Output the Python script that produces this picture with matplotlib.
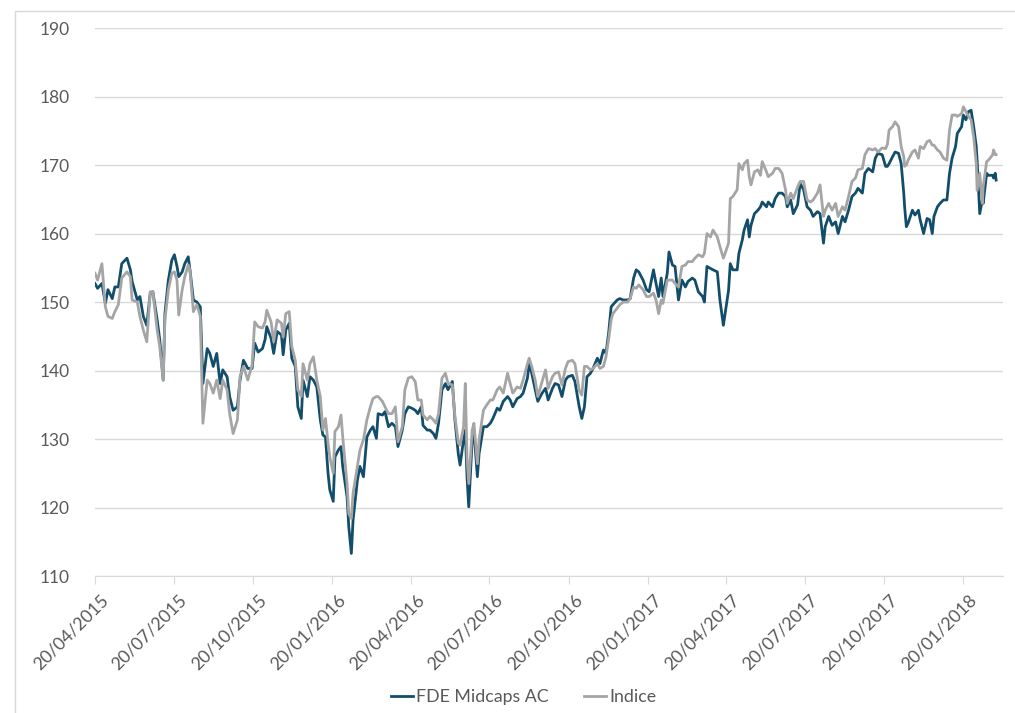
import numpy as np
import pandas as pd
from matplotlib import pyplot as plt
from matplotlib.patches import Rectangle
from matplotlib.transforms import ScaledTranslation
import matplotlib.dates as mdates

# days since 20/04/2015
day = [0, 3, 8, 12, 15, 20, 23, 27, 31, 37, 41, 43, 49, 52, 56, 60, 64, 67, 72, 75,
       79, 81, 85, 89, 92, 95, 97, 101, 104, 108, 110, 114, 118, 122, 125, 130, 133, 137, 141, 145,
       148, 153, 156, 160, 165, 168, 172, 177, 182, 185, 189, 194, 197, 199, 204, 207, 211, 216, 218, 221,
       225, 228, 232, 235, 239, 241, 246, 249, 253, 257, 261, 264, 267, 270, 272, 276, 278, 282, 285, 287,
       292, 294, 297, 299, 304, 307, 311, 315, 319, 322, 326, 328, 333, 336, 340, 344, 348, 351, 356, 359,
       363, 367, 371, 374, 378, 380, 385, 388, 392, 395, 398, 402, 406, 409, 414, 417, 421, 423, 427, 429,
       431, 433, 437, 439, 443, 445, 450, 454, 458, 461, 466, 469, 473, 478, 481, 484, 489, 493, 496, 501,
       503, 506, 510, 513, 518, 522, 525, 530, 533, 537, 541, 545, 548, 553, 556, 561, 564, 567, 570, 574,
       577, 582, 585, 589, 592, 595, 598, 600, 605, 608, 612, 617, 620, 624, 627, 630, 635, 639, 642, 647,
       650, 653, 656, 658, 663, 665, 669, 672, 676, 680, 684, 687, 692, 695, 699, 704, 706, 709, 713, 716,
       721, 724, 728, 730, 734, 736, 739, 744, 746, 750, 752, 756, 758, 760, 764, 768, 771, 773, 778, 780,
       785, 788, 792, 796, 800, 802, 806, 809, 814, 817, 821, 825, 829, 832, 837, 840, 844, 846, 850, 854,
       858, 861, 866, 869, 873, 877, 881, 884, 889, 892, 896, 901, 904, 907, 912, 916, 918, 920, 924, 927,
       931, 934, 937, 938, 940, 942, 947, 950, 954, 956, 960, 964, 967, 970, 972, 976, 979, 983, 987, 990,
       993, 997, 999, 1004, 1006, 1009, 1012, 1015, 1018, 1021, 1022, 1025, 1028, 1029, 1033, 1035, 1040, 1041, 1043, 1044]

fde = [152.7, 152.0, 152.7, 149.8, 151.8, 150.5, 152.2, 152.2, 155.6, 156.4, 154.7, 153.0, 150.3, 150.8, 147.9, 146.6, 151.3, 151.5, 147.4, 144.5,
       138.6, 148.3, 153.2, 156.1, 156.9, 155.2, 153.7, 154.4, 155.6, 156.6, 154.7, 150.3, 150.0, 149.3, 138.1, 143.2, 142.5, 140.6, 142.5, 138.1,
       140.1, 139.1, 136.2, 134.2, 134.7, 138.6, 141.5, 140.3, 140.3, 144.0, 142.7, 143.2, 144.5, 146.4, 144.7, 142.5, 145.7, 145.2, 142.3, 145.9,
       146.9, 141.8, 140.6, 134.7, 133.0, 138.6, 136.2, 139.1, 138.6, 137.6, 132.8, 130.6, 130.3, 125.0, 122.6, 120.9, 127.4, 128.4, 128.9, 126.0,
       121.6, 117.2, 113.3, 118.2, 124.0, 126.0, 124.5, 130.3, 131.3, 131.8, 130.1, 133.7, 133.5, 134.0, 131.8, 132.3, 131.8, 128.9, 131.3, 133.7,
       134.7, 134.5, 134.2, 133.7, 134.7, 132.0, 131.3, 131.3, 130.8, 130.1, 132.3, 137.2, 138.1, 137.2, 138.4, 132.8, 127.7, 126.2, 129.9, 131.3,
       124.5, 120.1, 129.9, 131.3, 124.5, 127.9, 131.8, 131.8, 132.3, 133.0, 134.5, 134.2, 135.5, 136.2, 135.7, 134.7, 135.9, 136.2, 136.7, 138.9,
       141.0, 139.6, 137.2, 135.5, 136.7, 137.4, 135.7, 137.4, 138.1, 137.9, 136.2, 138.6, 139.1, 139.3, 138.4, 134.7, 133.0, 134.7, 139.1, 139.6,
       140.3, 141.8, 141.0, 143.0, 142.5, 145.4, 149.3, 149.6, 150.3, 150.5, 150.3, 150.3, 150.5, 153.5, 154.7, 154.4, 153.2, 151.8, 151.5, 154.7,
       152.7, 150.8, 153.5, 150.8, 154.2, 157.3, 155.4, 155.2, 150.3, 153.2, 152.2, 153.0, 153.5, 153.2, 151.5, 150.8, 150.0, 155.2, 154.9, 154.7,
       154.4, 150.3, 146.6, 148.3, 151.7, 155.6, 154.7, 154.7, 157.1, 159.1, 160.5, 162.0, 159.5, 161.2, 162.9, 163.4, 163.9, 164.6, 163.9, 164.6,
       163.9, 165.1, 165.9, 165.9, 165.4, 163.9, 164.9, 162.9, 164.2, 167.3, 166.4, 163.9, 163.4, 162.5, 163.2, 162.9, 158.6, 161.0, 162.5, 161.2,
       161.7, 160.0, 162.5, 161.7, 163.4, 165.4, 165.9, 166.6, 165.9, 168.8, 169.5, 169.0, 171.0, 171.7, 171.5, 169.8, 169.8, 170.2, 171.2, 171.9,
       171.7, 170.2, 165.9, 163.9, 161.0, 161.5, 163.4, 162.7, 163.4, 162.0, 160.0, 162.2, 162.0, 160.0, 162.5, 163.9, 164.4, 164.9, 164.9, 168.8,
       171.0, 172.7, 174.6, 175.6, 177.3, 176.6, 177.8, 178.0, 175.6, 172.7, 170.7, 162.9, 164.9, 164.4, 168.8, 168.5, 168.5, 168.1, 168.8, 167.8]

indice = [154.2, 153.2, 155.6, 149.3, 147.9, 147.6, 148.6, 149.6, 153.5, 154.4, 153.7, 150.3, 150.0, 147.9, 145.9, 144.2, 151.5, 151.5, 145.9, 143.5,
          138.6, 147.4, 151.8, 154.2, 154.4, 153.2, 148.1, 151.8, 153.7, 155.4, 154.7, 148.6, 149.6, 147.9, 132.3, 138.6, 138.1, 136.7, 138.6, 135.9,
          138.6, 137.2, 133.7, 130.8, 132.8, 139.1, 140.6, 138.6, 140.8, 147.1, 146.4, 146.2, 147.1, 148.8, 147.1, 144.2, 147.4, 146.9, 144.9, 148.3,
          148.6, 143.5, 141.5, 137.2, 136.2, 141.0, 138.6, 141.0, 142.0, 138.6, 136.2, 131.3, 133.0, 129.4, 127.4, 125.0, 131.1, 131.8, 133.5, 130.3,
          123.5, 119.1, 118.4, 122.1, 126.0, 128.4, 129.9, 132.8, 134.7, 135.9, 136.2, 136.2, 135.5, 134.7, 133.7, 133.7, 134.7, 129.6, 131.8, 137.2,
          138.9, 139.1, 138.4, 135.7, 135.7, 133.5, 132.8, 133.3, 132.8, 132.3, 133.7, 138.9, 139.6, 138.1, 137.9, 133.3, 129.4, 129.1, 131.8, 138.1,
          127.4, 123.5, 131.3, 132.3, 126.4, 129.9, 134.2, 135.0, 135.7, 135.7, 137.2, 137.6, 136.7, 139.6, 138.1, 136.7, 137.6, 137.4, 138.6, 141.0,
          141.8, 140.6, 138.6, 136.2, 138.4, 140.1, 137.4, 139.1, 139.6, 139.8, 137.9, 140.3, 141.3, 141.5, 141.0, 137.1, 136.4, 140.6, 140.6, 140.1,
          140.3, 141.0, 140.3, 140.6, 142.0, 144.5, 147.4, 148.3, 149.1, 149.6, 150.0, 150.0, 150.5, 152.2, 152.0, 152.5, 151.8, 150.8, 150.8, 151.3,
          150.3, 148.3, 150.3, 149.8, 153.2, 153.2, 153.2, 152.7, 152.2, 155.2, 155.4, 155.9, 155.9, 156.4, 156.9, 156.6, 157.1, 160.0, 159.5, 160.5,
          159.5, 158.1, 156.4, 157.1, 158.6, 165.1, 165.4, 166.4, 170.2, 169.3, 170.2, 170.7, 168.3, 167.1, 169.0, 169.3, 168.5, 170.5, 169.0, 168.3,
          168.8, 169.5, 169.5, 168.8, 166.4, 164.4, 165.9, 165.1, 166.8, 167.6, 167.6, 164.9, 164.6, 164.9, 165.9, 167.1, 162.5, 163.4, 164.4, 163.4,
          164.4, 162.5, 163.9, 163.4, 165.4, 167.6, 168.1, 169.3, 169.5, 171.5, 172.4, 172.2, 172.4, 171.9, 172.5, 172.4, 173.0, 175.1, 175.6, 176.3,
          175.6, 172.7, 171.2, 169.8, 170.0, 170.7, 171.9, 172.2, 171.0, 172.7, 172.4, 173.4, 173.6, 172.9, 172.9, 172.2, 171.9, 171.0, 170.7, 175.1,
          177.3, 177.3, 177.1, 177.5, 178.5, 177.8, 177.1, 176.6, 174.1, 170.2, 166.3, 168.8, 164.4, 166.8, 170.5, 170.7, 171.5, 172.2, 171.5, 171.5]

start = pd.Timestamp('2015-04-20')
dates = start + pd.to_timedelta(day, unit='D')
tick_dates = [start + pd.DateOffset(months=3 * i) for i in range(12)]
yticks = [110, 120, 130, 140, 150, 160, 170, 180, 190]

plt.rcParams['font.family'] = ['Lato', 'DejaVu Sans']

fig = plt.figure(figsize=(10.15, 7.13), dpi=100)
ax = fig.add_axes([0.0936, 0.1921, 0.8946, 0.7686])

ax.plot(dates, fde, color='#124E6B', lw=2.0, label='FDE Midcaps AC')
ax.plot(dates, indice, color='#A5A5A5', lw=2.0, label='Indice')

ax.set_ylim(110, 190)
ax.set_yticks(yticks)
ax.set_xlim(start, start + pd.Timedelta(days=1052))
ax.set_xticks(tick_dates)
ax.xaxis.set_major_formatter(mdates.DateFormatter('%d/%m/%Y'))

ax.grid(axis='y', color='#D9D9D9', lw=1)
ax.set_axisbelow(True)
for s in ['top', 'right', 'left']:
    ax.spines[s].set_visible(False)
ax.spines['bottom'].set_color('#D9D9D9')
ax.tick_params(axis='y', length=0, pad=18, labelsize=12.5, labelcolor='#595959')
ax.tick_params(axis='x', length=6, color='#D9D9D9', pad=4, labelsize=12.8, labelcolor='#595959')
shift = ScaledTranslation(5 / 100, -2 / 100, fig.dpi_scale_trans)
for lab in ax.get_xticklabels():
    lab.set_rotation(45)
    lab.set_ha('right')
    lab.set_rotation_mode('anchor')
    lab.set_transform(lab.get_transform() + shift)

leg = fig.legend(loc='center', bbox_to_anchor=(0.516, 0.0224), ncol=2, frameon=False,
                 fontsize=12.8, handlelength=1.2, handletextpad=0.2, columnspacing=2.0,
                 labelcolor='#595959')

# outer chart frame
fig.patches.append(Rectangle((15 / 1015, -0.1), 1.1, 0.1 + 1 - 11 / 713, transform=fig.transFigure,
                             fill=False, edgecolor='#D9D9D9', lw=1))

fig.savefig('out.png', dpi=100)
